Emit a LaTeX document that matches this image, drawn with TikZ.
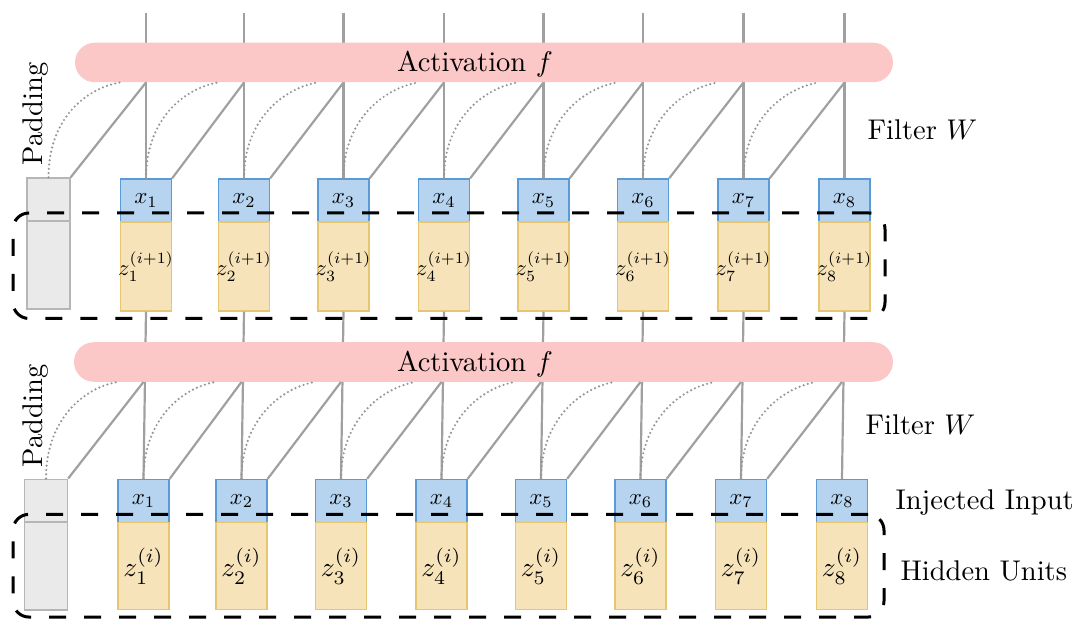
\documentclass[tikz,border=0pt]{standalone}
\usepackage{graphicx}
\usetikzlibrary{calc}
\definecolor{barpink}{RGB}{252,200,199}
\definecolor{xfill}{RGB}{182,212,240}
\definecolor{xdraw}{RGB}{90,155,215}
\definecolor{zfill}{RGB}{246,227,186}
\definecolor{zdraw}{RGB}{232,197,112}
\definecolor{pfill}{RGB}{234,234,234}
\definecolor{pdraw}{RGB}{182,182,182}
\definecolor{linkgray}{RGB}{160,160,160}
\definecolor{dotgray}{RGB}{150,150,150}
\begin{document}
\begin{tikzpicture}[x=1pt,y=-1pt,
  txt/.style={scale=2.85, inner sep=0pt},
  xbox/.style={draw=xdraw, fill=xfill, line width=1.3pt, minimum width=51pt, minimum height=43pt, inner sep=0pt},
  zbox/.style={draw=zdraw, fill=zfill, line width=1.3pt, minimum width=51pt, inner sep=0pt},
  padbox/.style={draw=pdraw, fill=pfill, line width=1.3pt, minimum width=43pt, inner sep=0pt},
  bar/.style={fill=barpink, minimum height=39.5pt, rounded corners=19.7pt, inner sep=0pt},
  link/.style={draw=linkgray, line width=2.2pt},
  dotlink/.style={draw=dotgray, line width=2.4pt, line cap=round, dash pattern=on 0pt off 4.3pt},
  frame/.style={draw=black, line width=3pt, dash pattern=on 17pt off 18pt, rounded corners=16pt, inner sep=0pt}
]
\useasboundingbox (0,0) rectangle (1080,631);

% ---------------- top layer ----------------
\foreach \c [count=\i] in {146,244,343.5,444,543.5,643,743.5,844.5} {
  \node[xbox] (xT\i) at (\c,200.5) {\makebox[0pt]{\scalebox{2.3}{$x_{\i}$}}};
  \node[zbox, minimum height=89pt] (zT\i) at (\c,266.5) {\makebox[0pt]{\scalebox{2.25}{$z_{\i}^{(i+1)}$}}};
  \coordinate (inT\i) at (\c,13);
}
\node[padbox, minimum height=43pt] (pT1) at (48.5,199.5) {};
\node[padbox, minimum height=88pt] (pT2) at (48.5,265) {};

% ---------------- bottom layer ----------------
\foreach \c [count=\i] in {143.5,241.5,341,441.5,541,640.5,741,842} {
  \node[xbox] (xB\i) at (\c,501) {\makebox[0pt]{\scalebox{2.3}{$x_{\i}$}}};
  \node[zbox, minimum height=87.5pt] (zB\i) at (\c,566) {\makebox[0pt]{\scalebox{2.75}{$z_{\i}^{(i)}$}}};
}
\node[padbox, minimum height=43pt] (pB1) at (46,500.7) {};
\node[padbox, minimum height=88pt] (pB2) at (46,566) {};

% ---------------- vertical connectors (behind bars) ----------------
\foreach \i in {1,...,8} {
  \draw[link] (inT\i) -- (xT\i.north);
  \draw[link] (zT\i.south) -- (xB\i.north);
}
% activation bars over the vertical lines
\node[bar, minimum width=818pt] (barT) at (484,62.5) {};
\node[bar, minimum width=819pt] (barB) at (483.5,362) {};

% diagonals
\draw[link] (pT1.north east) -- (xT1.north |- barT.south);
\draw[link] (pB1.north east) -- (xB1.north |- barB.south);
\foreach \i/\j in {1/2,2/3,3/4,4/5,5/6,6/7,7/8} {
  \draw[link] (xT\i.north east) -- (xT\j.north |- barT.south);
  \draw[link] (xB\i.north east) -- (xB\j.north |- barB.south);
}
% dotted curves
\draw[dotlink] (pT1.north) .. controls +(0,-59) and +(-34,6) .. ($(xT1.north |- barT.south)+(-26,0)$);
\draw[dotlink] (pB1.north) .. controls +(0,-59) and +(-34,6) .. ($(xB1.north |- barB.south)+(-26,0)$);
\foreach \i/\j in {1/2,2/3,3/4,4/5,5/6,6/7,7/8} {
  \draw[dotlink] (xT\i.north) .. controls +(0,-59) and +(-34,6) .. ($(xT\j.north |- barT.south)+(-26,0)$);
  \draw[dotlink] (xB\i.north) .. controls +(0,-59) and +(-34,6) .. ($(xB\j.north |- barB.south)+(-26,0)$);
}

% dashed frames
\node[frame, minimum width=872pt, minimum height=105.5pt] (frT) at (449,265.75) {};
\node[frame, minimum width=871pt, minimum height=102.7pt] (frB) at (448.5,565.7) {};

% texts
\node[txt, anchor=base] (actT) at (475,71.7) {Activation $f$};
\node[txt, anchor=base] (actB) at (475,371.3) {Activation $f$};
\node[txt, rotate=90, anchor=base] (padT) at (42.7,114) {Padding};
\node[txt, rotate=90, anchor=base] (padB) at (42.7,415.8) {Padding};
\node[txt, anchor=base west] (filT) at (867,140) {Filter $W$};
\node[txt, anchor=base west] (filB) at (865,434.3) {Filter $W$};
\node[txt, anchor=base west] (inj) at (895,509.3) {Injected Input};
\node[txt, anchor=base west] (hid) at (900,580) {Hidden Units};
\end{tikzpicture}
\end{document}
